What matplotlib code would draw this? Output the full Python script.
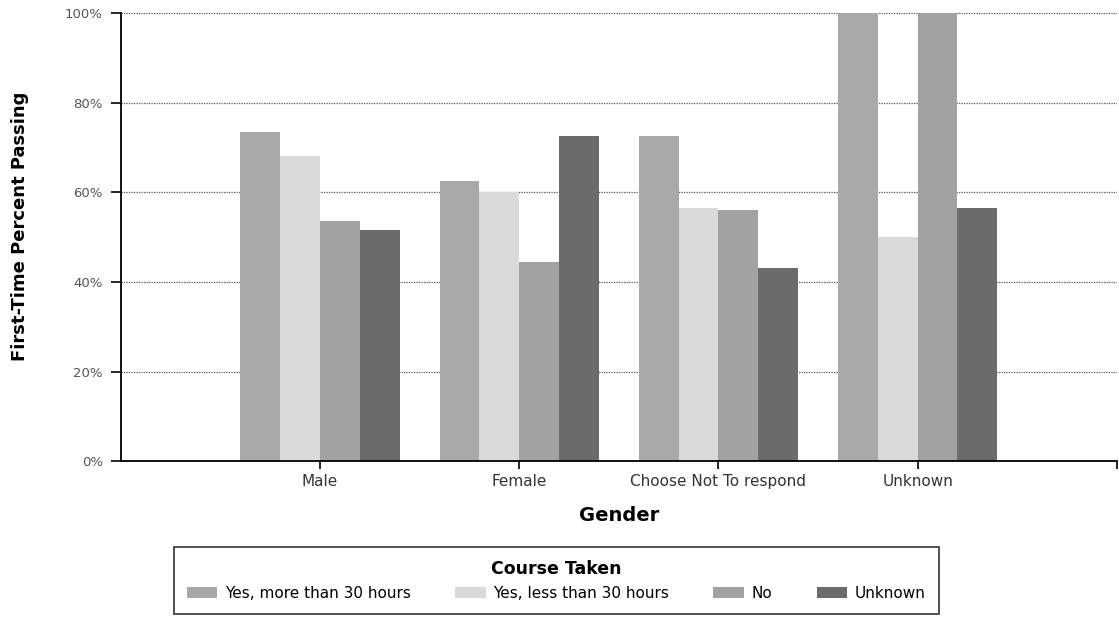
import matplotlib
matplotlib.use("Agg")
import matplotlib.pyplot as plt
import numpy as np

plt.rcParams['font.family'] = ['DejaVu Sans']

# data
genders = ["Male", "Female", "Choose Not To respond", "Unknown"]
series = ["Yes, more than 30 hours", "Yes, less than 30 hours", "No", "Unknown"]
more_30 = [73.5, 62.5, 72.5, 100]
less_30 = [68, 60, 56.5, 50]
no_course = [53.5, 44.5, 56, 100]
unknown = [51.5, 72.5, 43, 56.5]
values = [more_30, less_30, no_course, unknown]
colors = ["#a9a9a9", "#dadada", "#a2a2a2", "#6b6b6b"]

fig = plt.figure(figsize=(11.19, 6.19), dpi=100)
ax = fig.add_axes([0.108, 0.255, 0.89, 0.724])

x = np.arange(1, len(genders) + 1)
w = 0.2
for i, (vals, name, c) in enumerate(zip(values, series, colors)):
    ax.bar(x + (i - 1.5) * w, vals, w, color=c, label=name, zorder=2)

ax.set_xlim(0, 5)
ax.set_ylim(0, 100)
ax.set_yticks([0, 20, 40, 60, 80, 100])
ax.set_yticklabels(["0%", "20%", "40%", "60%", "80%", "100%"], color="#555555", fontsize=9.5)
ax.set_xticks(x)
ax.set_xticklabels(genders, fontsize=11, color="#333333")
ax.set_xticks([5], minor=True)
ax.tick_params(axis="x", which="both", direction="out", length=6, width=1.2)
ax.tick_params(axis="y", direction="out", length=7, width=1.2, pad=6)

ax.yaxis.grid(True, linestyle=(0, (1, 1)), color="#555555", linewidth=0.9, zorder=1)
for s in ["top", "right"]:
    ax.spines[s].set_visible(False)
ax.spines["left"].set_linewidth(1.3)
ax.spines["bottom"].set_linewidth(1.3)

ax.set_xlabel("Gender", fontsize=14, fontweight="bold", labelpad=12)
ax.set_ylabel("First-Time Percent Passing", fontsize=13, fontweight="bold")
ax.yaxis.set_label_coords(-0.092, 0.525)

leg = fig.legend(loc="center", bbox_to_anchor=(0.497, 0.062), ncol=4,
                 title="Course Taken", fontsize=11, frameon=True, fancybox=False,
                 edgecolor="black", handlelength=2.0, handleheight=0.8,
                 handletextpad=0.5, columnspacing=2.9, borderpad=0.85)
leg.get_title().set_fontweight("bold")
leg.get_title().set_fontsize(12.5)
leg.get_frame().set_linewidth(1.2)

fig.savefig("out.png", dpi=100)
